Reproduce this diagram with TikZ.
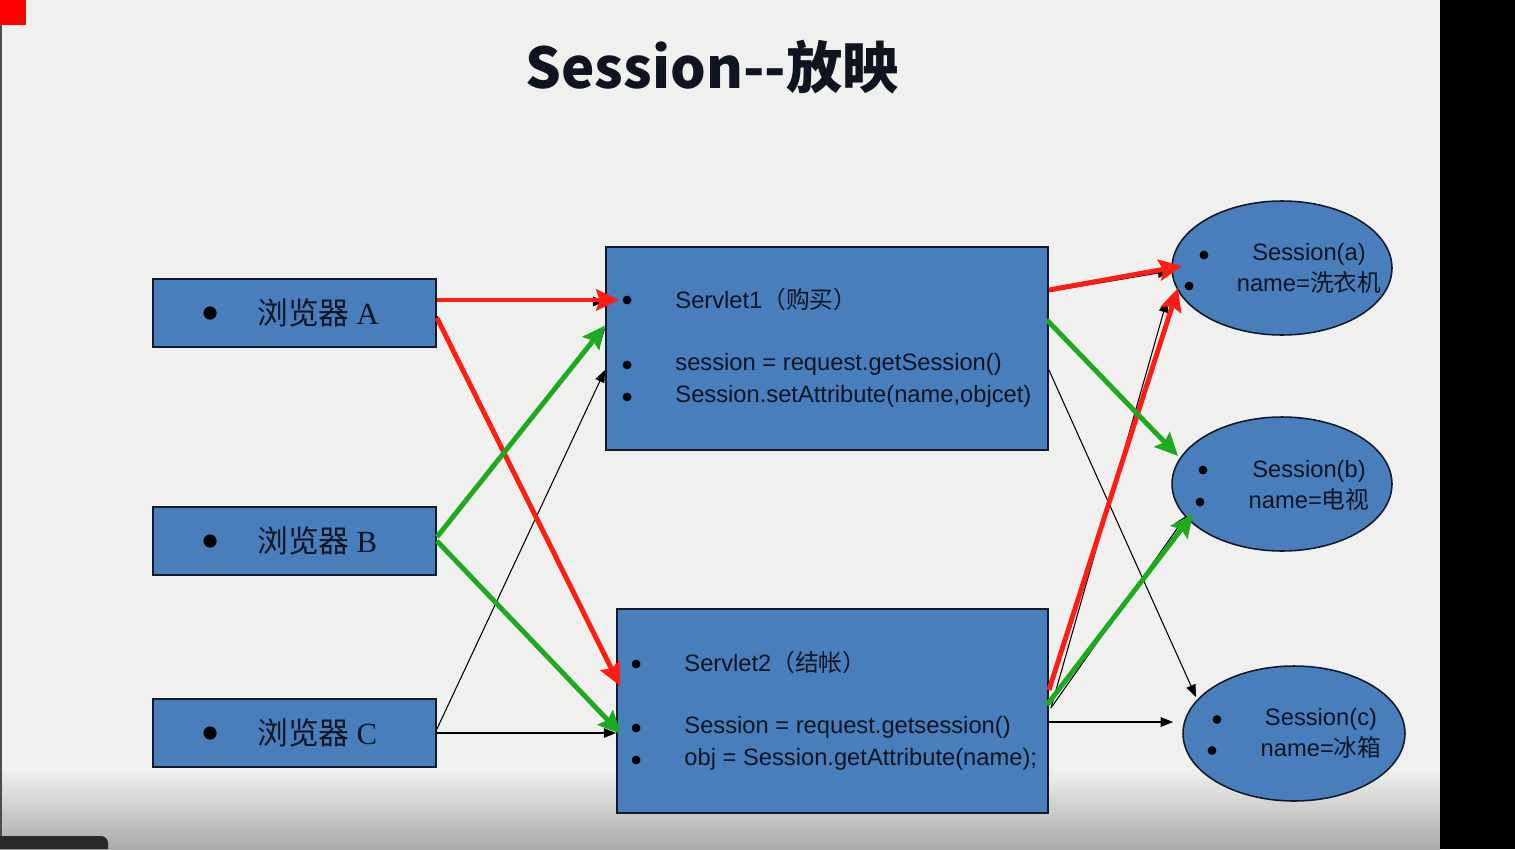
\documentclass[tikz,border=0pt]{standalone}
\usepackage{fontspec}
\setmainfont{Liberation Sans}
\newfontfamily\cjk{Noto Sans CJK SC}
\newfontfamily\serifA{Liberation Serif}
\usetikzlibrary{arrows.meta,calc,shapes.geometric}
\definecolor{SessBg}{RGB}{240,241,239}
\definecolor{SessFoot}{RGB}{170,170,168}
\definecolor{SessBlue}{RGB}{73,126,189}
\definecolor{SessEdge}{RGB}{18,26,44}
\definecolor{SessInk}{RGB}{16,20,32}
\definecolor{SessRed}{RGB}{255,28,20}
\definecolor{SessGreen}{RGB}{30,170,30}
\definecolor{SessTab}{RGB}{42,42,42}

\begin{document}
\begin{tikzpicture}[x=0.02cm,y=-0.02cm,
    browser/.style={draw=SessEdge,line width=1.1pt,fill=SessBlue,minimum width=5.66cm,minimum height=1.36cm,inner sep=0pt},
    servlet/.style={draw=SessEdge,line width=1.1pt,fill=SessBlue,inner sep=0pt},
    sess/.style={ellipse,draw=SessEdge,line width=0.9pt,fill=SessBlue,minimum width=4.4cm,minimum height=2.68cm,inner sep=0pt},
    dot/.style={circle,fill=black,inner sep=0pt,minimum size=5pt},
    item/.style={anchor=west,inner sep=0pt,text=SessInk,font=\fontsize{13.5}{17.6}\selectfont},
    sesstext/.style={align=center,inner sep=0pt,text=SessInk,font=\fontsize{13.5}{17.6}\selectfont},
    link/.style={-{Triangle[length=7pt,width=5.5pt]},line width=0.6pt,draw=black},
    redlink/.style={-{Stealth[length=13pt,width=12pt,inset=2pt]},line width=2.8pt,draw=SessRed},
    greenlink/.style={-{Stealth[length=13pt,width=12pt,inset=2pt]},line width=2.8pt,draw=SessGreen}
  ]
    % slide background
    \useasboundingbox (0,0) rectangle (1515,849);
    \fill[SessBg] (0,0) rectangle (1440,849);
    \shade[top color=SessBg,bottom color=SessFoot] (0,770) rectangle (1440,849);
    \fill[black] (1440,0) rectangle (1515,849);
    \fill[black!70] (0,0) rectangle (2,849);
    \fill[red] (0,0) rectangle (26,25);
    \fill[SessTab] (0,849) -- (0,836) [rounded corners=4pt]-- (108,836) [sharp corners]-- (108,849) -- cycle;

    \node[font=\cjk\bfseries\fontsize{32}{38}\selectfont,text=SessInk] (title) at (712,67) {Session{-}{-}放映};

    % browsers
    \foreach \n/\y in {A/313,B/541,C/733}{
      \node[browser] (brow\n) at (294.5,\y) {};
      \node[dot,minimum size=7.5pt] (brow\n dot) at ($(brow\n.west)+(58,0)$) {};
      \node[item,font=\fontsize{17.5}{20}\selectfont] (brow\n txt) at ($(brow\n.west)+(105,0)$) {{\cjk 浏览器}\hspace{4pt}{\serifA \n}};
    }

    % servlets
    \node[servlet,minimum width=8.84cm,minimum height=4.06cm] (sv1) at (827,348.5) {};
    \node[dot] (sv1a) at ($(sv1.west)+(22,-48.5)$) {};
    \node[dot] (sv1b) at ($(sv1.west)+(22,16.5)$) {};
    \node[dot] (sv1c) at ($(sv1.west)+(22,48.5)$) {};
    \node[item] (sv1t) at ($(sv1.west)+(70,-49)$) {Servlet1{\cjk （购买）}};
    \node[item] (sv1u) at ($(sv1.west)+(70,16)$) {session = request.getSession()};
    \node[item] (sv1v) at ($(sv1.west)+(70,48)$) {Session.setAttribute(name,objcet)};

    \node[servlet,minimum width=8.62cm,minimum height=4.08cm] (sv2) at (832.5,711) {};
    \node[dot] (sv2a) at ($(sv2.west)+(20,-47)$) {};
    \node[dot] (sv2b) at ($(sv2.west)+(20,17)$) {};
    \node[dot] (sv2c) at ($(sv2.west)+(20,49)$) {};
    \node[item] (sv2t) at ($(sv2.west)+(68,-49)$) {Servlet2{\cjk （结帐）}};
    \node[item] (sv2u) at ($(sv2.west)+(68,16)$) {Session = request.getsession()};
    \node[item] (sv2v) at ($(sv2.west)+(68,48)$) {obj = Session.getAttribute(name);};

    % sessions
    \node[sess] (sessA) at (1282,268) {};
    \node[dot] (sessAa) at ($(sessA)+(-78,-13)$) {};
    \node[dot] (sessAb) at ($(sessA)+(-93,18)$) {};
    \node[sesstext] (sessAt) at ($(sessA)+(27,0)$) {Session(a)\\name={\cjk 洗衣机}};

    \node[sess] (sessB) at (1282,484) {};
    \node[dot] (sessBa) at ($(sessB)+(-79,-14)$) {};
    \node[dot] (sessBb) at ($(sessB)+(-82,18)$) {};
    \node[sesstext] (sessBt) at ($(sessB)+(27,1)$) {Session(b)\\name={\cjk 电视}};

    \node[sess,minimum width=4.44cm,minimum height=2.7cm] (sessC) at (1294,733.5) {};
    \node[dot] (sessCa) at ($(sessC)+(-77,-14)$) {};
    \node[dot] (sessCb) at ($(sessC)+(-82,17)$) {};
    \node[sesstext] (sessCt) at ($(sessC)+(27,0)$) {Session(c)\\name={\cjk 冰箱}};

    % plain requests
    \draw[link] ($(browA.east)+(0,-12)$) -- ($(sv1.west)+(0,-47)$);
    \draw[link] ($(browA.east)+(0,3)$) -- ($(sv2.west)+(0,-29)$);
    \draw[link] ($(browB.east)+(0,-4)$) -- ($(sv1.west)+(0,-20)$);
    \draw[link] ($(browB.east)+(0,1)$) -- ($(sv2.west)+(0,20)$);
    \draw[link] ($(browC.east)+(0,-4)$) -- ($(sv1.west)+(0,21.5)$);
    \draw[link] (browC.east) -- ($(sv2.west)+(0,22)$);
    \draw[link] ($(sv1.east)+(0,-57)$) -- ($(sessA)+(-112,3)$);
    \draw[link] ($(sv1.east)+(0,-26)$) -- ($(sessB)+(-108,-32)$);
    \draw[link] ($(sv1.east)+(0,21.5)$) -- ($(sessC)+(-98,-36.5)$);
    \draw[link] ($(sv2.east)+(2,-3)$) -- ($(sessA)+(-115,32)$);
    \draw[link] ($(sv2.east)+(2,-3)$) -- ($(sessB)+(-96,32)$);
    \draw[link] ($(sv2.east)+(0,11)$) -- ($(sessC)+(-121,-11.5)$);

    % browser A: buy and pay
    \draw[redlink] ($(browA.east)+(0,-13)$) -- ($(sv1.west)+(14,-48.5)$);
    \draw[redlink] ($(browA.east)+(0,5)$) -- ($(sv2.west)+(4,-25)$);
    \draw[redlink] ($(sv1.east)+(0,-58.5)$) -- ($(sessA)+(-100,-2)$);
    \draw[redlink] ($(sv2.east)+(0,-21)$) -- ($(sessA)+(-104,20)$);
    % browser B: buy and pay
    \draw[greenlink] ($(browB.east)+(0,-4)$) -- ($(sv1.west)+(0,-23)$);
    \draw[greenlink] (browB.east) -- ($(sv2.west)+(5,23)$);
    \draw[greenlink] ($(sv1.east)+(-2,-28.5)$) -- ($(sessB)+(-104,-28)$);
    \draw[greenlink] ($(sv2.east)+(-2,-6)$) -- ($(sessB)+(-89,30)$);
  \end{tikzpicture}
\end{document}
